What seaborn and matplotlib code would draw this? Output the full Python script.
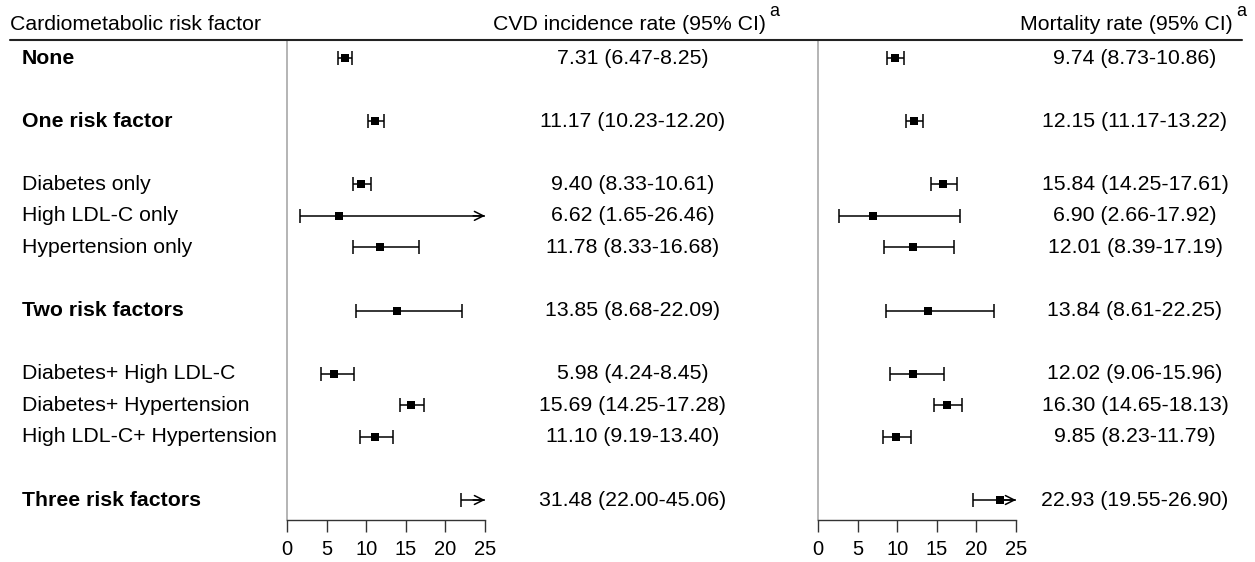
import numpy as np
import pandas as pd
import matplotlib
matplotlib.use("Agg")
import matplotlib.pyplot as plt
import matplotlib.transforms as mtransforms
from matplotlib.lines import Line2D
import seaborn as sns

# datos del forest plot
labels = ["None", "One risk factor", "Diabetes only", "High LDL-C only", "Hypertension only",
          "Two risk factors", "Diabetes+ High LDL-C", "Diabetes+ Hypertension",
          "High LDL-C+ Hypertension", "Three risk factors"]
is_bold = [True, True, False, False, False, True, False, False, False, True]
rows = [0, 2, 4, 5, 6, 8, 10, 11, 12, 14]

cvd_est = [7.31, 11.17, 9.40, 6.62, 11.78, 13.85, 5.98, 15.69, 11.10, 31.48]
cvd_lo = [6.47, 10.23, 8.33, 1.65, 8.33, 8.68, 4.24, 14.25, 9.19, 22.00]
cvd_hi = [8.25, 12.20, 10.61, 26.46, 16.68, 22.09, 8.45, 17.28, 13.40, 45.06]

mort_est = [9.74, 12.15, 15.84, 6.90, 12.01, 13.84, 12.02, 16.30, 9.85, 22.93]
mort_lo = [8.73, 11.17, 14.25, 2.66, 8.39, 8.61, 9.06, 14.65, 8.23, 19.55]
mort_hi = [10.86, 13.22, 17.61, 17.92, 17.19, 22.25, 15.96, 18.13, 11.79, 26.90]

x_ticks = [0, 5, 10, 15, 20, 25]
x_max = 25

sns.set_style("white")
plt.rcParams["font.family"] = ["Liberation Sans", "DejaVu Sans"]
plt.rcParams["text.color"] = "black"
plt.rcParams["xtick.labelcolor"] = "black"

W, H = 1255, 562
fig = plt.figure(figsize=(W / 100, H / 100), dpi=100)
FS = 15.3


def px_x(p):
    return p / W


def px_y(p):
    return 1 - p / H


top_px, bottom_px = 40, 520
row_px = (500 - 58) / 14
y_top = -(58 - top_px) / row_px
y_bot = 14 + (bottom_px - 500) / row_px


def forest_panel(left_px, est, lo, hi):
    ax = fig.add_axes([px_x(left_px), px_y(bottom_px), 198 / W, (bottom_px - top_px) / H])
    ax.set_xlim(0, x_max)
    ax.set_ylim(y_bot, y_top)
    df = pd.DataFrame({"row": rows, "est": est, "lo": lo, "hi": hi})
    # lineas de IC
    hi_clip = np.minimum(df["hi"], x_max)
    ax.hlines(df["row"], df["lo"], hi_clip, color="black", lw=1.1, clip_on=False)
    ax.plot(df["lo"], df["row"], ls="none", marker="|", ms=10, mew=1.1, color="black", clip_on=False)
    inside = df[df["hi"] <= x_max]
    ax.plot(inside["hi"], inside["row"], ls="none", marker="|", ms=10, mew=1.1, color="black", clip_on=False)
    for _, r in df[df["hi"] > x_max].iterrows():
        ax.annotate("", xy=(x_max, r["row"]), xytext=(x_max - 1.5, r["row"]),
                    arrowprops=dict(arrowstyle="->", lw=1.1, color="black",
                                    mutation_scale=16, shrinkA=0, shrinkB=0),
                    annotation_clip=False)
    pts = df[df["est"] <= x_max]
    sns.scatterplot(data=pts, x="est", y="row", marker="s", s=40, color="black",
                    edgecolor="black", linewidth=0, ax=ax, clip_on=False, zorder=3)
    ax.set_xlabel("")
    ax.set_ylabel("")
    ax.set_yticks([])
    ax.set_xticks(x_ticks)
    ax.set_xticklabels([str(t) for t in x_ticks], fontsize=14.5)
    ax.tick_params(axis="x", direction="out", length=8.5, width=1, color="#333333", pad=6, bottom=True)
    for s in ["top", "right"]:
        ax.spines[s].set_visible(False)
    ax.spines["left"].set_color("#a8a8a8")
    ax.spines["left"].set_linewidth(1.2)
    ax.spines["bottom"].set_color("#333333")
    ax.spines["bottom"].set_linewidth(1)
    ax.patch.set_alpha(0)
    return ax


ax1 = forest_panel(287, cvd_est, cvd_lo, cvd_hi)
ax2 = forest_panel(818, mort_est, mort_lo, mort_hi)

# etiquetas y valores
tr = mtransforms.blended_transform_factory(fig.transFigure, ax1.transData)
for lab, b, r, e, l, h, me, ml, mh in zip(labels, is_bold, rows, cvd_est, cvd_lo, cvd_hi,
                                          mort_est, mort_lo, mort_hi):
    ax1.text(px_x(22), r, lab, transform=tr, ha="left", va="center",
             fontsize=FS, fontweight="bold" if b else "normal")
    ax1.text(px_x(633), r, f"{e:.2f} ({l:.2f}-{h:.2f})", transform=tr, ha="center",
             va="center", fontsize=FS)
    ax1.text(px_x(1135), r, f"{me:.2f} ({ml:.2f}-{mh:.2f})", transform=tr, ha="center",
             va="center", fontsize=FS)

# encabezados
fig.text(px_x(10), px_y(25), "Cardiometabolic risk factor", ha="left", va="center", fontsize=FS)
fig.text(px_x(766), px_y(25), "CVD incidence rate (95% CI)", ha="right", va="center", fontsize=FS)
fig.text(px_x(769), px_y(12), "a", ha="left", va="center", fontsize=13)
fig.text(px_x(1233), px_y(25), "Mortality rate (95% CI)", ha="right", va="center", fontsize=FS)
fig.text(px_x(1236), px_y(12), "a", ha="left", va="center", fontsize=13)
fig.add_artist(Line2D([px_x(10), px_x(1242)], [px_y(40), px_y(40)], color="#222222", lw=1.5))

fig.savefig("out.png", dpi=100)
